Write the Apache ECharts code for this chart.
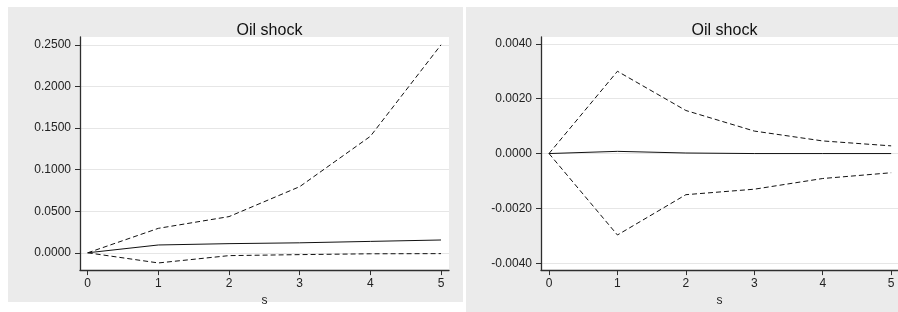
<!DOCTYPE html>
<html>
<head>
<meta charset="utf-8">
<script src="https://cdn.jsdelivr.net/npm/echarts@6/dist/echarts.min.js"></script>
<style>
html,body{margin:0;padding:0;background:#fff;}
#c{width:898px;height:312px;}
</style>
</head>
<body>
<div id="c"></div>
<script>
// Horizon (s)
var steps = [0, 1, 2, 3, 4, 5];
// Left panel: impulse response and confidence bands
var leftIrf   = [0, 0.0094, 0.0110, 0.0120, 0.0137, 0.0154];
var leftUpper = [0, 0.0294, 0.0435, 0.0795, 0.1400, 0.2500];
var leftLower = [0, -0.0122, -0.0034, -0.0022, -0.0012, -0.0010];
// Right panel
var rightIrf   = [0, 0.00008, 0.00002, 0.0000, 0.0000, 0.0000];
var rightUpper = [0, 0.00300, 0.00157, 0.00082, 0.00046, 0.00028];
var rightLower = [0, -0.00297, -0.00150, -0.00130, -0.00091, -0.00070];
// Tick labels
var xTicks = [0, 1, 2, 3, 4, 5];
var leftYTicks = [0, 0.05, 0.10, 0.15, 0.20, 0.25];
var rightYTicks = [-0.004, -0.002, 0, 0.002, 0.004];
var titleText = 'Oil shock';
var xName = 's';

function pairs(xs, ys){ return xs.map(function(x,i){ return [x, ys[i]]; }); }

var font = 'Liberation Sans, Arial, sans-serif';
var axisCol = '#2e2e2e';

function xAxisOpt(gi, min, max){
  return {
    type:'value', gridIndex: gi, min: min, max: max,
    name: xName, nameLocation:'middle', nameGap: 19,
    nameTextStyle:{fontFamily:font, fontSize:12, color:'#222'},
    axisLine:{show:true, onZero:false, lineStyle:{color:axisCol, width:1.3}},
    axisTick:{show:true, length:5, customValues: xTicks, lineStyle:{color:axisCol}},
    axisLabel:{customValues: xTicks, margin:8, fontFamily:font, fontSize:12, color:'#222',
      formatter:function(v){return String(Math.round(v));}},
    splitLine:{show:false}
  };
}
function yAxisOpt(gi, min, max, ticks){
  return {
    type:'value', gridIndex: gi, min: min, max: max,
    axisLine:{show:true, onZero:false, lineStyle:{color:axisCol, width:1.3}},
    axisTick:{show:true, length:5, customValues: ticks, lineStyle:{color:axisCol}},
    axisLabel:{customValues: ticks, margin:9, fontFamily:font, fontSize:12, color:'#222',
      formatter:function(v){ var s=(Math.abs(v)<1e-12?0:v).toFixed(4); return s; }},
    splitLine:{show:true, lineStyle:{color:'#e6e6e6', width:1}}
  };
}
function line(gi, data, dashed){
  return {
    type:'line', xAxisIndex: gi, yAxisIndex: gi, data: data,
    showSymbol:false, symbol:'none', animation:false,
    lineStyle:{color:'#111', width:1, type: dashed ? [5,3] : 'solid'}
  };
}

var chart = echarts.init(document.getElementById('c'));
chart.setOption({
  backgroundColor:'#ffffff',
  animation:false,
  graphic:[
    {type:'rect', z:-10, shape:{x:8, y:7, width:455, height:295}, style:{fill:'#ebebeb'}, silent:true},
    {type:'rect', z:-10, shape:{x:466, y:7, width:432, height:305}, style:{fill:'#ebebeb'}, silent:true}
  ],
  title:[
    {text:titleText, left:264.5, top:18, textAlign:'center',
      textStyle:{fontFamily:font, fontSize:16, fontWeight:'normal', color:'#111'}},
    {text:titleText, left:719.5, top:18, textAlign:'center',
      textStyle:{fontFamily:font, fontSize:16, fontWeight:'normal', color:'#111'}}
  ],
  grid:[
    {left:80, right:449, top:37, bottom:37, show:true, backgroundColor:'#ffffff', borderWidth:0},
    {left:541, right:0, top:37, bottom:38, show:true, backgroundColor:'#ffffff', borderWidth:0}
  ],
  xAxis:[ xAxisOpt(0, -0.109, 5.113), xAxisOpt(1, -0.117, 5.10) ],
  yAxis:[ yAxisOpt(0, -0.0208, 0.2594, leftYTicks), yAxisOpt(1, -0.00425, 0.00425, rightYTicks) ],
  series:[
    line(0, pairs(steps, leftIrf), false),
    line(0, pairs(steps, leftUpper), true),
    line(0, pairs(steps, leftLower), true),
    line(1, pairs(steps, rightIrf), false),
    line(1, pairs(steps, rightUpper), true),
    line(1, pairs(steps, rightLower), true)
  ]
});
</script>
</body>
</html>
